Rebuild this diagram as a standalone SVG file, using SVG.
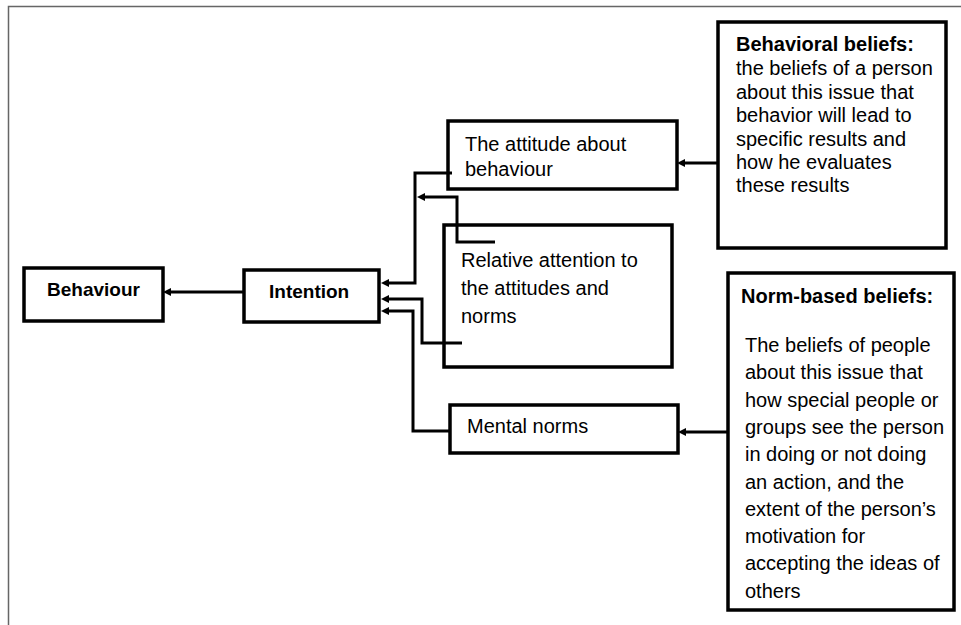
<svg xmlns="http://www.w3.org/2000/svg" width="961" height="625" viewBox="0 0 961 625">
<defs>
<marker id="ah" markerUnits="userSpaceOnUse" markerWidth="10" markerHeight="10" refX="2" refY="4" orient="auto">
<path d="M0,0 L8,4 L0,8 z" fill="#000"/>
</marker>
<style>
.box{fill:#fff;stroke:#000;stroke-width:3.5}
.t{font-family:"Liberation Sans",Arial,sans-serif;font-size:20px;fill:#000}
.b{font-family:"Liberation Sans",Arial,sans-serif;font-size:19px;font-weight:bold;fill:#000}
.hb{font-family:"Liberation Sans",Arial,sans-serif;font-size:20px;font-weight:bold;fill:#000}
.c{fill:none;stroke:#000;stroke-width:3;marker-end:url(#ah)}
</style>
</defs>
<rect width="961" height="625" fill="#fff"/>
<g id="frame"><path d="M8.5,625 V6.5 H961" fill="none" stroke="#666" stroke-width="1.5"/></g>

<g id="behaviour"><rect class="box" x="24" y="268" width="139" height="53"/><text class="b" x="47" y="296">Behaviour</text></g>
<g id="intention"><rect class="box" x="244" y="270" width="135" height="52"/><text class="b" x="269" y="298">Intention</text></g>
<g id="attitude"><rect class="box" x="448" y="121" width="229" height="68"/><text class="t" x="465" y="151">The attitude about</text><text class="t" x="465" y="176">behaviour</text></g>
<g id="relative"><rect class="box" x="444" y="225" width="228" height="142"/><text class="t" x="461" y="267">Relative attention to</text><text class="t" x="461" y="295">the attitudes and</text><text class="t" x="461" y="323">norms</text></g>
<g id="mental"><rect class="box" x="450" y="405" width="228" height="48"/><text class="t" x="467" y="433">Mental norms</text></g>
<g id="behavioral-beliefs"><rect class="box" x="718" y="22" width="228" height="226"/>
<text class="hb" x="736" y="51">Behavioral beliefs:</text>
<text class="t" x="736" y="75">the beliefs of a person</text>
<text class="t" x="736" y="98.5">about this issue that</text>
<text class="t" x="736" y="122">behavior will lead to</text>
<text class="t" x="736" y="145.5">specific results and</text>
<text class="t" x="736" y="169">how he evaluates</text>
<text class="t" x="736" y="192">these results</text>
</g>
<g id="norm-beliefs"><rect class="box" x="728" y="273" width="226" height="337"/>
<text class="hb" x="741" y="303">Norm-based beliefs:</text>
<text class="t" x="745" y="352">The beliefs of people</text>
<text class="t" x="745" y="379.3">about this issue that</text>
<text class="t" x="745" y="406.6">how special people or</text>
<text class="t" x="745" y="433.9">groups see the person</text>
<text class="t" x="745" y="461.2">in doing or not doing</text>
<text class="t" x="745" y="488.5">an action, and the</text>
<text class="t" x="745" y="515.8">extent of the person’s</text>
<text class="t" x="745" y="543.1">motivation for</text>
<text class="t" x="745" y="570.4">accepting the ideas of</text>
<text class="t" x="745" y="597.7">others</text>
</g>

<g id="connectors">
<path class="c" d="M244,292 H169"/>
<path class="c" d="M452,173 H415 V283 H387"/>
<path class="c" d="M495,242 H457 V197 H423"/>
<path class="c" d="M462,343 H422 V299 H387"/>
<path class="c" d="M450,431 H413 V311 H387"/>
<path class="c" d="M718,163 H683"/>
<path class="c" d="M728,432 H684"/>
</g>
</svg>
